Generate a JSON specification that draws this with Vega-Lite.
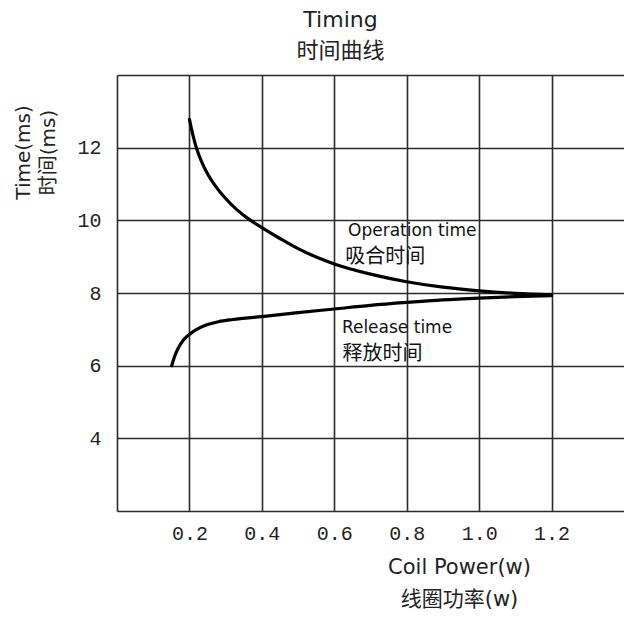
{
  "$schema": "https://vega.github.io/schema/vega-lite/v6.json",
  "autosize": {"type": "none"},
  "width": 507,
  "height": 436,
  "padding": {"left": 117, "top": 75, "right": 0, "bottom": 108},
  "background": "white",
  "title": {
    "text": ["Timing", "时间曲线"],
    "fontSize": 22,
    "lineHeight": 31,
    "font": "DejaVu Sans, Noto Sans CJK SC",
    "fontWeight": "normal",
    "color": "#222222",
    "anchor": "middle",
    "dx": -30,
    "offset": 12
  },
  "datasets": {
    "curves": [
      {"series": "Operation", "power": 0.2, "time": 12.78},
      {"series": "Operation", "power": 0.21, "time": 12.33},
      {"series": "Operation", "power": 0.22, "time": 11.97},
      {"series": "Operation", "power": 0.235, "time": 11.58},
      {"series": "Operation", "power": 0.25, "time": 11.28},
      {"series": "Operation", "power": 0.275, "time": 10.9},
      {"series": "Operation", "power": 0.3, "time": 10.6},
      {"series": "Operation", "power": 0.33, "time": 10.3},
      {"series": "Operation", "power": 0.36, "time": 10.06},
      {"series": "Operation", "power": 0.4, "time": 9.8},
      {"series": "Operation", "power": 0.45, "time": 9.5},
      {"series": "Operation", "power": 0.5, "time": 9.22},
      {"series": "Operation", "power": 0.55, "time": 8.99},
      {"series": "Operation", "power": 0.6, "time": 8.8},
      {"series": "Operation", "power": 0.7, "time": 8.52},
      {"series": "Operation", "power": 0.8, "time": 8.31},
      {"series": "Operation", "power": 0.9, "time": 8.16},
      {"series": "Operation", "power": 1.0, "time": 8.06},
      {"series": "Operation", "power": 1.1, "time": 7.99},
      {"series": "Operation", "power": 1.2, "time": 7.95},
      {"series": "Release", "power": 0.151, "time": 6.0},
      {"series": "Release", "power": 0.16, "time": 6.28},
      {"series": "Release", "power": 0.17, "time": 6.5},
      {"series": "Release", "power": 0.183, "time": 6.7},
      {"series": "Release", "power": 0.2, "time": 6.86},
      {"series": "Release", "power": 0.22, "time": 7.0},
      {"series": "Release", "power": 0.25, "time": 7.13},
      {"series": "Release", "power": 0.28, "time": 7.21},
      {"series": "Release", "power": 0.32, "time": 7.27},
      {"series": "Release", "power": 0.4, "time": 7.35},
      {"series": "Release", "power": 0.5, "time": 7.46},
      {"series": "Release", "power": 0.6, "time": 7.56},
      {"series": "Release", "power": 0.7, "time": 7.66},
      {"series": "Release", "power": 0.8, "time": 7.74},
      {"series": "Release", "power": 0.9, "time": 7.81},
      {"series": "Release", "power": 1.0, "time": 7.86},
      {"series": "Release", "power": 1.1, "time": 7.9},
      {"series": "Release", "power": 1.2, "time": 7.93}
    ],
    "labels": [
      {"label": "Operation time", "power": 0.638, "time": 9.72, "kind": "latin"},
      {"label": "吸合时间", "power": 0.63, "time": 8.98, "kind": "cjk"},
      {"label": "Release time", "power": 0.621, "time": 7.03, "kind": "latin"},
      {"label": "释放时间", "power": 0.623, "time": 6.32, "kind": "cjk"}
    ]
  },
  "layer": [
    {
      "data": {"name": "curves"},
      "mark": {"type": "line", "color": "#000000", "strokeWidth": 3.2, "interpolate": "monotone", "strokeCap": "round"},
      "encoding": {
        "x": {
          "field": "power", "type": "quantitative",
          "scale": {"domain": [0, 1.4], "nice": false, "zero": false},
          "axis": {
            "values": [0, 0.2, 0.4, 0.6, 0.8, 1.0, 1.2],
            "labelExpr": "datum.value == 0 ? '' : format(datum.value, '.1f')",
            "grid": true, "gridColor": "#2b2b2b", "gridWidth": 1.6, "gridOpacity": 1,
            "domain": false, "ticks": false,
            "labelFont": "Liberation Mono", "labelFontSize": 20, "labelColor": "#222222",
            "labelPadding": 12, "labelDx": 2,
            "title": ["Coil Power(w)", "线圈功率(w)"],
            "titleFont": "DejaVu Sans, Noto Sans CJK SC", "titleFontSize": 21, "titleFontWeight": "normal",
            "titleColor": "#222222", "titleLineHeight": 32,
            "titleX": 342, "titleY": 45, "titleAlign": "center", "titleBaseline": "top"
          }
        },
        "y": {
          "field": "time", "type": "quantitative",
          "scale": {"domain": [2, 14], "nice": false, "zero": false},
          "axis": {
            "values": [2, 4, 6, 8, 10, 12, 14],
            "labelExpr": "datum.value == 2 || datum.value == 14 ? '' : datum.label",
            "grid": true, "gridColor": "#2b2b2b", "gridWidth": 1.6, "gridOpacity": 1,
            "domain": false, "ticks": false,
            "labelFont": "Liberation Mono", "labelFontSize": 20, "labelColor": "#222222",
            "labelPadding": 16,
            "title": ["Time(ms)", "时间(ms)"],
            "titleFont": "DejaVu Sans, Noto Sans CJK SC", "titleFontSize": 20, "titleFontWeight": "normal",
            "titleColor": "#222222", "titleLineHeight": 25,
            "titleX": -104, "titleY": 77, "titleAngle": 270, "titleAlign": "center", "titleBaseline": "top"
          }
        },
        "detail": {"field": "series", "type": "nominal"}
      }
    },
    {
      "data": {"name": "labels"},
      "transform": [{"filter": "datum.kind == 'latin'"}],
      "mark": {"type": "text", "align": "left", "baseline": "middle", "font": "DejaVu Sans", "fontSize": 17, "color": "#111111"},
      "encoding": {
        "x": {"field": "power", "type": "quantitative"},
        "y": {"field": "time", "type": "quantitative"},
        "text": {"field": "label", "type": "nominal"}
      }
    },
    {
      "data": {"name": "labels"},
      "transform": [{"filter": "datum.kind == 'cjk'"}],
      "mark": {"type": "text", "align": "left", "baseline": "middle", "font": "Noto Sans CJK SC", "fontSize": 20, "color": "#111111"},
      "encoding": {
        "x": {"field": "power", "type": "quantitative"},
        "y": {"field": "time", "type": "quantitative"},
        "text": {"field": "label", "type": "nominal"}
      }
    }
  ],
  "config": {"view": {"stroke": null}}
}
